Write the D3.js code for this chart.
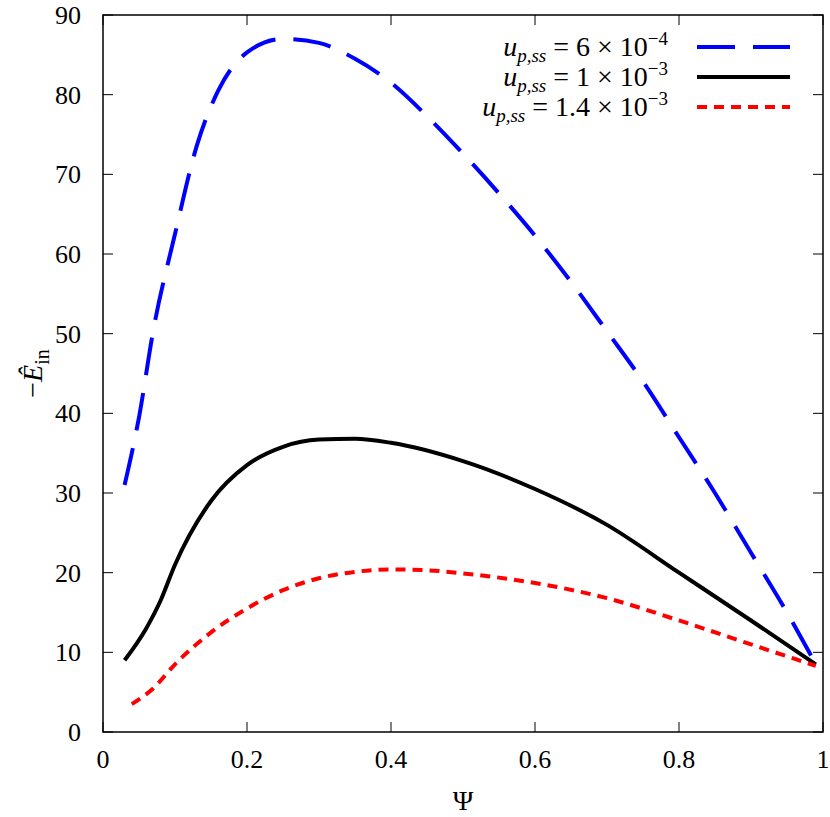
<!DOCTYPE html>
<html><head><meta charset="utf-8">
<script src="https://cdn.jsdelivr.net/npm/d3@7"></script>
<style>body{margin:0;background:#fff}text{font-family:"Liberation Serif","DejaVu Serif",serif}</style>
</head><body><svg id="c" width="830" height="817"></svg>
<script>
const blueX=[0.03,0.05,0.07,0.1,0.13,0.16,0.2,0.25,0.3,0.35,0.4,0.45,0.5,0.55,0.6,0.65,0.7,0.75,0.8,0.85,0.9,0.95,0.99];
const blueY=[31,39.5,50.5,62.5,73.5,80.5,85.3,87,86.5,84.5,81.5,77.3,72.6,67.6,62.3,56.5,50.3,44,37,30,22.5,15,8.5];
const blackX=[0.03,0.06,0.08,0.1,0.15,0.2,0.25,0.3,0.35,0.4,0.5,0.6,0.7,0.8,0.9,0.99];
const blackY=[9,13,16.5,21,29,33.5,35.8,36.7,36.8,36.3,34,30.5,26,20,14,8.5];
const redX=[0.04,0.07,0.1,0.15,0.2,0.25,0.3,0.35,0.4,0.45,0.5,0.6,0.7,0.8,0.9,0.99];
const redY=[3.5,5.5,8.5,12.5,15.5,17.8,19.3,20.1,20.4,20.3,19.9,18.7,16.8,14,11,8.3];
const xTicks=[0,0.2,0.4,0.6,0.8,1];
const yTicks=[0,10,20,30,40,50,60,70,80,90];
const svg=d3.select("#c");
const L=103,R=823,T=15,B=732;
const x=d3.scaleLinear().domain([0,1]).range([L,R]);
const y=d3.scaleLinear().domain([0,90]).range([B,T]);
const g=svg.append("g");
const tl=10;
xTicks.forEach(t=>{
 g.append("line").attr("x1",x(t)).attr("x2",x(t)).attr("y1",B).attr("y2",B-tl).attr("stroke","#000");
 g.append("line").attr("x1",x(t)).attr("x2",x(t)).attr("y1",T).attr("y2",T+tl).attr("stroke","#000");
 g.append("text").attr("x",x(t)).attr("y",B+36).attr("text-anchor","middle").attr("font-size",26).text(d3.format("~g")(t));
});
yTicks.forEach(t=>{
 g.append("line").attr("x1",L).attr("x2",L+tl).attr("y1",y(t)).attr("y2",y(t)).attr("stroke","#000");
 g.append("line").attr("x1",R).attr("x2",R-tl).attr("y1",y(t)).attr("y2",y(t)).attr("stroke","#000");
 g.append("text").attr("x",L-22).attr("y",y(t)+9).attr("text-anchor","end").attr("font-size",26).text(t);
});
const line=d3.line().x(d=>x(d[0])).y(d=>y(d[1])).curve(d3.curveMonotoneX);
const zip=(a,b)=>a.map((v,i)=>[v,b[i]]);
g.append("path").attr("d",line(zip(blueX,blueY))).attr("fill","none").attr("stroke","#0000ff").attr("stroke-width",4).attr("stroke-dasharray","38,18");
g.append("path").attr("d",line(zip(blackX,blackY))).attr("fill","none").attr("stroke","#000").attr("stroke-width",4);
g.append("path").attr("d",line(zip(redX,redY))).attr("fill","none").attr("stroke","#ff0000").attr("stroke-width",4).attr("stroke-dasharray","10,7");
g.append("rect").attr("x",L).attr("y",T).attr("width",R-L).attr("height",B-T).attr("fill","none").attr("stroke","#000").attr("stroke-width",1.5);
const leg=[["6","−4","#0000ff","38,18"],["1","−3","#000",null],["1.4","−3","#ff0000","10,7"]];
leg.forEach((l,i)=>{
 const yy=47+i*30;
 const t=g.append("text").attr("x",668).attr("y",yy+9).attr("text-anchor","end").attr("font-size",28);
 t.append("tspan").attr("font-style","italic").text("u");
 t.append("tspan").attr("font-style","italic").attr("font-size",19).attr("dy",6).text("p,ss");
 t.append("tspan").attr("dy",-6).text(" = "+l[0]+" × 10");
 t.append("tspan").attr("font-size",19).attr("dy",-11).text(l[1]);
 const ln=g.append("line").attr("x1",697).attr("x2",790).attr("y1",yy).attr("y2",yy).attr("stroke",l[2]).attr("stroke-width",4);
 if(l[3]) ln.attr("stroke-dasharray",l[3]);
});
svg.append("text").attr("x",(L+R)/2).attr("y",810).attr("text-anchor","middle").attr("font-size",28).text("Ψ");
const yl=svg.append("text").attr("transform",`translate(42,${(T+B)/2}) rotate(-90)`).attr("text-anchor","middle").attr("font-size",28);
yl.append("tspan").text("−");
yl.append("tspan").attr("font-style","italic").text("Ê");
yl.append("tspan").attr("font-size",20).attr("dy",7).text("in");
</script></body></html>
